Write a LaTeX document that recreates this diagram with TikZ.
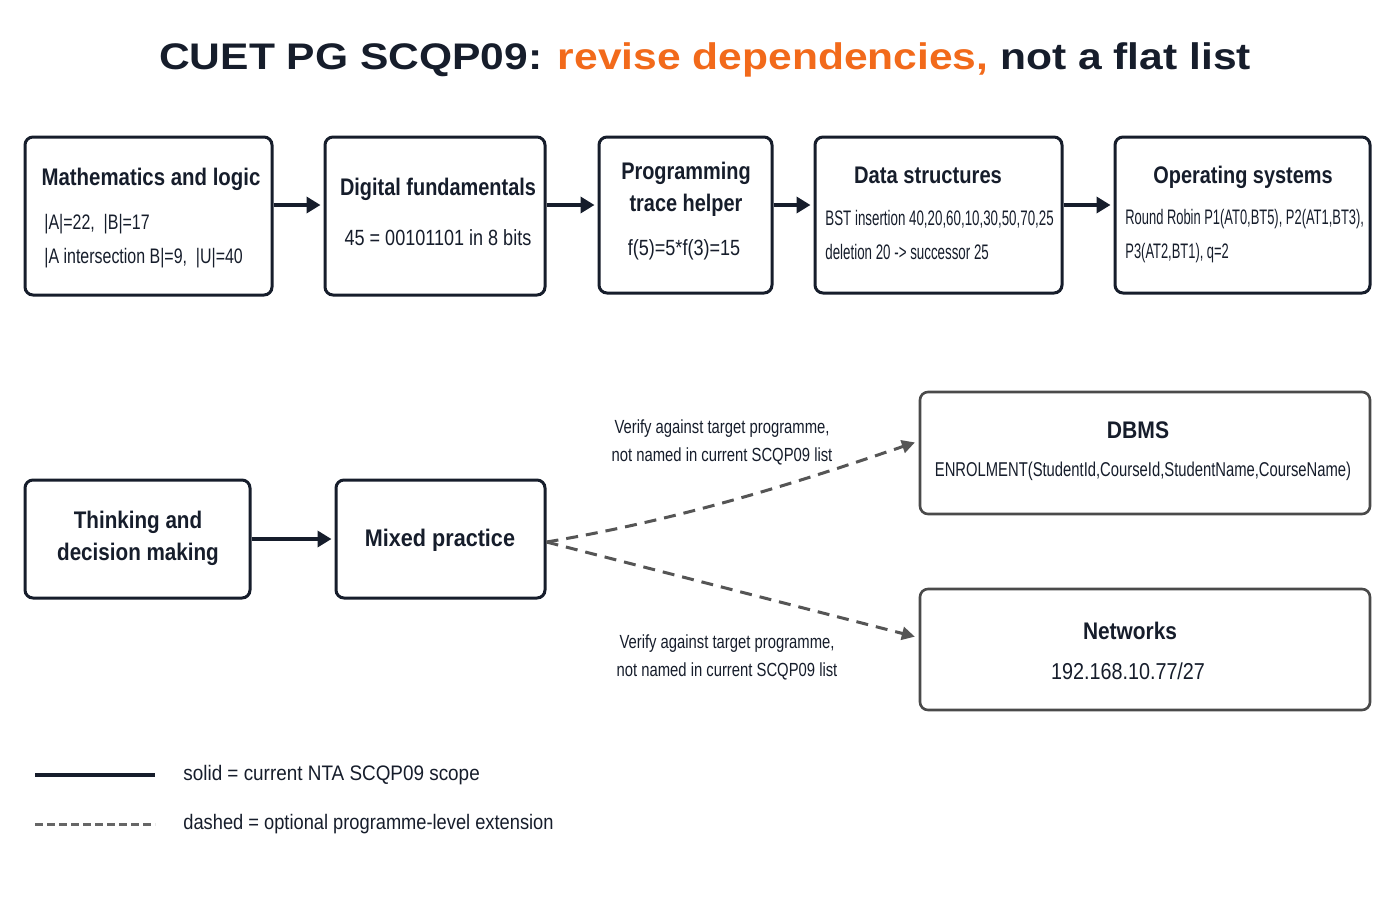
\documentclass[tikz,border=0pt]{standalone}
\usepackage{fontspec}
\usepackage{graphicx}
\setmainfont{Liberation Sans}
\usetikzlibrary{arrows.meta,calc}
\definecolor{navy}{HTML}{161D2B}
\definecolor{orng}{HTML}{F26A1B}
\definecolor{gry}{HTML}{555555}
\definecolor{gbox}{HTML}{4A4A4A}
\newcommand\hs[2]{\scalebox{#1}[1]{#2}}
\tikzset{
  box/.style={draw=navy, line width=1.5pt, rounded corners=4pt, inner sep=0pt},
  gbx/.style={draw=gbox, line width=1.3pt, rounded corners=4pt, inner sep=0pt},
  ttl/.style={font=\bfseries\fontsize{12}{16}\selectfont, text=navy, inner sep=0pt, align=center},
  bdy/.style={font=\fontsize{10.5}{17}\selectfont, text=navy, inner sep=0pt, align=left},
  bdyc/.style={font=\fontsize{11}{14}\selectfont, text=navy, inner sep=0pt, align=center},
  lbl/.style={font=\fontsize{9.5}{14}\selectfont, text=navy, inner sep=0pt, align=center},
  leg/.style={font=\fontsize{10.5}{13}\selectfont, text=navy, inner sep=0pt, anchor=west},
  solidarrow/.style={draw=navy, line width=2pt, -{Triangle[length=7pt,width=8pt]}, shorten >=1.5pt},
  dasharrow/.style={draw=gry, line width=1.5pt, dash pattern=on 6pt off 4pt, -{Triangle[length=6.5pt,width=6.5pt]}, shorten >=2pt}
}
\begin{document}
\begin{tikzpicture}[x=0.5pt,y=-0.5pt]
\useasboundingbox[fill=white] (0,0) rectangle (1400,900);

% title
\node[font=\bfseries\fontsize{18.5}{22}\selectfont, inner sep=0pt, text=navy] (title) at (705,60)
  {\hs{1.15}{CUET PG SCQP09: \textcolor{orng}{revise dependencies,} not a flat list}};

% top row boxes
\node[box, minimum width=123.5pt, minimum height=79pt] (math) at (148.5,216) {};
\node[box, minimum width=110pt, minimum height=79pt] (dig) at (435,216) {};
\node[box, minimum width=86.5pt, minimum height=78pt] (prog) at (685.5,215) {};
\node[box, minimum width=123.5pt, minimum height=78pt] (ds) at (938.5,215) {};
\node[box, minimum width=127.5pt, minimum height=78pt] (os) at (1242.5,215) {};

\node[ttl] (mathT) at (151,179) {\hs{0.85}{Mathematics and logic}};
\node[bdy, anchor=west] (mathB) at (44,241) {\hs{0.76}{|A|=22,\ \ |B|=17}\\\hs{0.76}{|A intersection B|=9,\ \ |U|=40}};

\node[ttl] (digT) at (438,189) {\hs{0.83}{Digital fundamentals}};
\node[bdyc] (digB) at (438,238) {\hs{0.82}{45 = 00101101 in 8 bits}};

\node[ttl] (progT) at (686,189) {\hs{0.83}{Programming}\\\hs{0.83}{trace helper}};
\node[bdyc] (progB) at (684,250) {\hs{0.82}{f(5)=5*f(3)=15}};

\node[ttl] (dsT) at (928,175) {\hs{0.84}{Data structures}};
\node[bdy, anchor=west] (dsB) at (825,234.5) {\hs{0.635}{BST insertion 40,20,60,10,30,50,70,25}\\\hs{0.635}{deletion 20 -> successor 25}};

\node[ttl] (osT) at (1243,177) {\hs{0.83}{Operating systems}};
\node[bdy, anchor=west] (osB) at (1125,236.5) {\hs{0.615}{Round Robin P1(AT0,BT5), P2(AT1,BT3),}\\\hs{0.615}{P3(AT2,BT1), q=2}};

% top row arrows
\draw[solidarrow] ([yshift=5.5pt]math.east) -- ([yshift=5.5pt]dig.west);
\draw[solidarrow] ([yshift=5.5pt]dig.east) -- ([yshift=5pt]prog.west);
\draw[solidarrow] ([yshift=5pt]prog.east) -- ([yshift=5pt]ds.west);
\draw[solidarrow] ([yshift=5pt]ds.east) -- ([yshift=5pt]os.west);

% second row
\node[box, minimum width=112.5pt, minimum height=59pt] (think) at (137.5,539) {};
\node[ttl] (thinkT) at (138,538) {\hs{0.86}{Thinking and}\\\hs{0.86}{decision making}};
\node[box, minimum width=104.5pt, minimum height=59pt] (mix) at (440.5,539) {};
\node[ttl] (mixT) at (440,540) {\hs{0.9}{Mixed practice}};
\draw[solidarrow] (think.east) -- (mix.west);

\node[gbx, minimum width=225pt, minimum height=61pt] (dbms) at (1145,453) {};
\node[ttl] (dbmsT) at (1138,430) {\hs{0.88}{DBMS}};
\node[bdyc, font=\fontsize{10}{12}\selectfont] (dbmsB) at (1143,471) {\hs{0.74}{ENROLMENT(StudentId,CourseId,StudentName,CourseName)}};

\node[gbx, minimum width=225pt, minimum height=60.5pt] (net) at (1145,649.5) {};
\node[ttl] (netT) at (1130,631) {\hs{0.87}{Networks}};
\node[bdyc, font=\fontsize{11.5}{14}\selectfont] (netB) at (1128,671) {\hs{0.86}{192.168.10.77/27}};

% dashed extensions
\draw[dasharrow] ([yshift=-1.5pt]mix.east) .. controls (690,518) and (810,478) .. (dbms.177.5);
\draw[dasharrow] ([yshift=-1.5pt]mix.east) -- (net.177.8);

\node[lbl] (lblA) at (722,442) {\hs{0.78}{Verify against target programme,}\\\hs{0.78}{not named in current SCQP09 list}};
\node[lbl] (lblB) at (727,657) {\hs{0.78}{Verify against target programme,}\\\hs{0.78}{not named in current SCQP09 list}};

% legend
\coordinate (ls1) at (35,775);
\coordinate (ls2) at (155,775);
\coordinate (ld1) at (35,824);
\coordinate (ld2) at (155,824);
\draw[navy, line width=2pt] (ls1) -- (ls2);
\draw[gry!90, line width=1.5pt, dash pattern=on 4pt off 2pt] (ld1) -- (ld2);
\node[leg] (legS) at (183,775) {\hs{0.9}{solid = current NTA SCQP09 scope}};
\node[leg] (legD) at (183,824) {\hs{0.87}{dashed = optional programme-level extension}};
\end{tikzpicture}
\end{document}
